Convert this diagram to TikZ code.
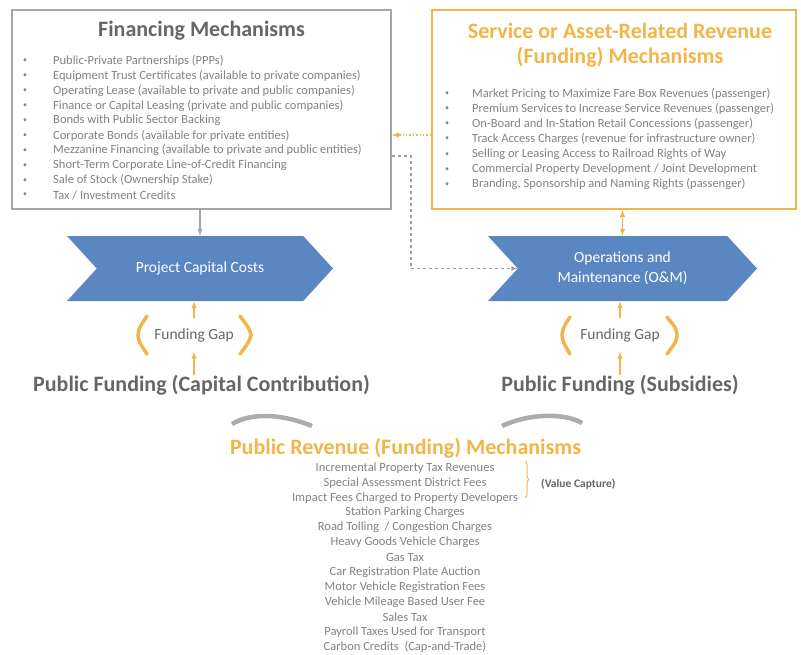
\documentclass[tikz,border=0pt]{standalone}
\usepackage{fontspec}
\setmainfont{Carlito}
\usetikzlibrary{ arrows,
                 positioning,              % For easy node-relative placements
                 shapes.symbols,           % For the cost chevrons
                 decorations.pathreplacing % For the value capture brace
               }
\definecolor{boxgray}{RGB}{166,166,166}
\definecolor{headgray}{RGB}{102,102,102}
\definecolor{itemgray}{RGB}{130,130,130}
\definecolor{fundorange}{RGB}{242,181,72}
\definecolor{chevblue}{RGB}{90,134,194}
\definecolor{linkgray}{RGB}{150,158,172}

\tikzstyle{panel} = [rectangle, line width=1.6pt, inner sep=0pt]
\tikzstyle{heading} = [font=\fontsize{22}{25}\selectfont\bfseries, text=headgray, align=center, inner sep=0pt]
\tikzstyle{entry} = [font=\fontsize{12.5}{15}\selectfont, text=itemgray, anchor=west, inner sep=0pt]
\tikzstyle{dot} = [font=\fontsize{8}{8}\selectfont, text=itemgray, inner sep=0pt]
\tikzstyle{chevron} = [signal, signal from=west, signal to=east, signal pointer angle=95,
                       fill=chevblue, text=white, font=\fontsize{15.5}{20}\selectfont,
                       align=center, minimum height=65pt, inner sep=0pt]
\tikzstyle{fundgap} = [font=\fontsize{15.5}{18}\selectfont, text=headgray, inner sep=0pt, minimum height=33pt]
\tikzstyle{gapbracket} = [draw=fundorange, line width=3.5pt, line cap=round]
\tikzstyle{swoosh} = [draw=gray!65, line width=4.5pt]
\tikzstyle{feed} = [-latex, draw=boxgray, line width=1.4pt]
\tikzstyle{gapfeed} = [-latex, draw=fundorange, line width=1.4pt]

\begin{document}
\begin{tikzpicture}[x=1pt, y=-1pt]
  \useasboundingbox (0,0) rectangle (801,654);

  % financing side
  \node (fin) [panel, draw=boxgray, minimum width=379pt, minimum height=199pt] at (201.5, 109.5) {};
  \node (fin_title) [heading] at (201.5, 31) {Financing Mechanisms};
  \foreach \txt [count=\i from 0] in {{Public-Private Partnerships (PPPs)},
      {Equipment Trust Certificates (available to private companies)},
      {Operating Lease (available to private and public companies)},
      {Finance or Capital Leasing (private and public companies)},
      {Bonds with Public Sector Backing},
      {Corporate Bonds (available for private entities)},
      {Mezzanine Financing (available to private and public entities)},
      {Short-Term Corporate Line-of-Credit Financing},
      {Sale of Stock (Ownership Stake)},
      {Tax / Investment Credits}} {
    \node (fin_b\i) [dot] at (25, 61+14.9*\i) {\textbullet};
    \node (fin_\i) [entry] at (53, 61+14.9*\i) {\txt};
  }

  % service / asset revenue side
  \node (srv) [panel, draw=fundorange, minimum width=364pt, minimum height=199pt] at (614, 109.5) {};
  \node (srv_title) [heading, text=fundorange] at (620, 45) {Service or Asset-Related Revenue\\(Funding) Mechanisms};
  \foreach \txt [count=\i from 0] in {{Market Pricing to Maximize Fare Box Revenues (passenger)},
      {Premium Services to Increase Service Revenues (passenger)},
      {On-Board and In-Station Retail Concessions (passenger)},
      {Track Access Charges (revenue for infrastructure owner)},
      {Selling or Leasing Access to Railroad Rights of Way},
      {Commercial Property Development / Joint Development},
      {Branding, Sponsorship and Naming Rights (passenger)}} {
    \node (srv_b\i) [dot] at (447, 94+15.05*\i) {\textbullet};
    \node (srv_\i) [entry] at (472, 94+15.05*\i) {\txt};
  }

  % cost chevrons
  \node (pcc) [chevron, minimum width=266pt] at (200, 268.5) {Project Capital Costs};
  \node (om) [chevron, minimum width=269pt] at (622.5, 268.5) {Operations and\\Maintenance (O\&M)};

  \draw[feed] (pcc.north |- fin.south) -- (pcc.north);
  \draw[gapfeed, latex-latex] (om.north |- srv.south) -- (om.north);
  \draw[gapfeed, dotted] (srv.west |- 0,135) -- (fin.east |- 0,135);
  \draw[-latex, draw=linkgray, line width=1.1pt, dashed] (fin.east |- 0,156) -- (411,156) |- (om.west);

  % funding gaps
  \node (gap_l) [fundgap] at (194, 335) {Funding Gap};
  \node (gap_r) [fundgap] at (620, 335) {Funding Gap};
  \draw[gapbracket] (147,316) .. controls (139,328) .. (138,335) .. controls (139,342) .. (147,354);
  \draw[gapbracket] (240,316) .. controls (249,328) .. (251,335) .. controls (249,342) .. (240,354);
  \draw[gapbracket] (570,317) .. controls (563,328) .. (562,335) .. controls (563,342) .. (570,354);
  \draw[gapbracket] (667,317) .. controls (676,328) .. (677,335) .. controls (676,342) .. (667,354);

  \node (pf_cap) [heading] at (201.5, 385) {Public Funding (Capital Contribution)};
  \node (pf_sub) [heading] at (620, 385) {Public Funding (Subsidies)};

  \draw[gapfeed] (gap_l.north) -- (gap_l.north |- pcc.south);
  \draw[gapfeed] (pf_cap.north -| gap_l) -- (gap_l.south);
  \draw[gapfeed] (gap_r.north) -- (gap_r.north |- om.south);
  \draw[gapfeed] (pf_sub.north -| gap_r) -- (gap_r.south);

  % public revenue mechanisms
  \draw[swoosh] (232,424) .. controls (250,413) and (280,413) .. (312,426);
  \draw[swoosh] (502,426) .. controls (530,413) and (565,413) .. (582,423);
  \node (pub_title) [heading, text=fundorange] at (405.5, 448) {Public Revenue (Funding) Mechanisms};
  \foreach \txt [count=\i from 0] in {{Incremental Property Tax Revenues},
      {Special Assessment District Fees},
      {Impact Fees Charged to Property Developers},
      {Station Parking Charges},
      {Road Tolling~ / Congestion Charges},
      {Heavy Goods Vehicle Charges},
      {Gas Tax},
      {Car Registration Plate Auction},
      {Motor Vehicle Registration Fees},
      {Vehicle Mileage Based User Fee},
      {Sales Tax},
      {Payroll Taxes Used for Transport},
      {Carbon Credits~ (Cap-and-Trade)}} {
    \node (pub_\i) [entry, anchor=center] at (405, 468+14.9*\i) {\txt};
  }
  \draw[draw=fundorange, line width=1pt, decorate, decoration={brace, amplitude=4pt}]
    (525,461) -- (525,498);
  \node (vcap) [font=\fontsize{11.5}{13}\selectfont\bfseries, text=headgray, anchor=west, inner sep=0pt] at (541, 484) {(Value Capture)};

\end{tikzpicture}
\end{document}
